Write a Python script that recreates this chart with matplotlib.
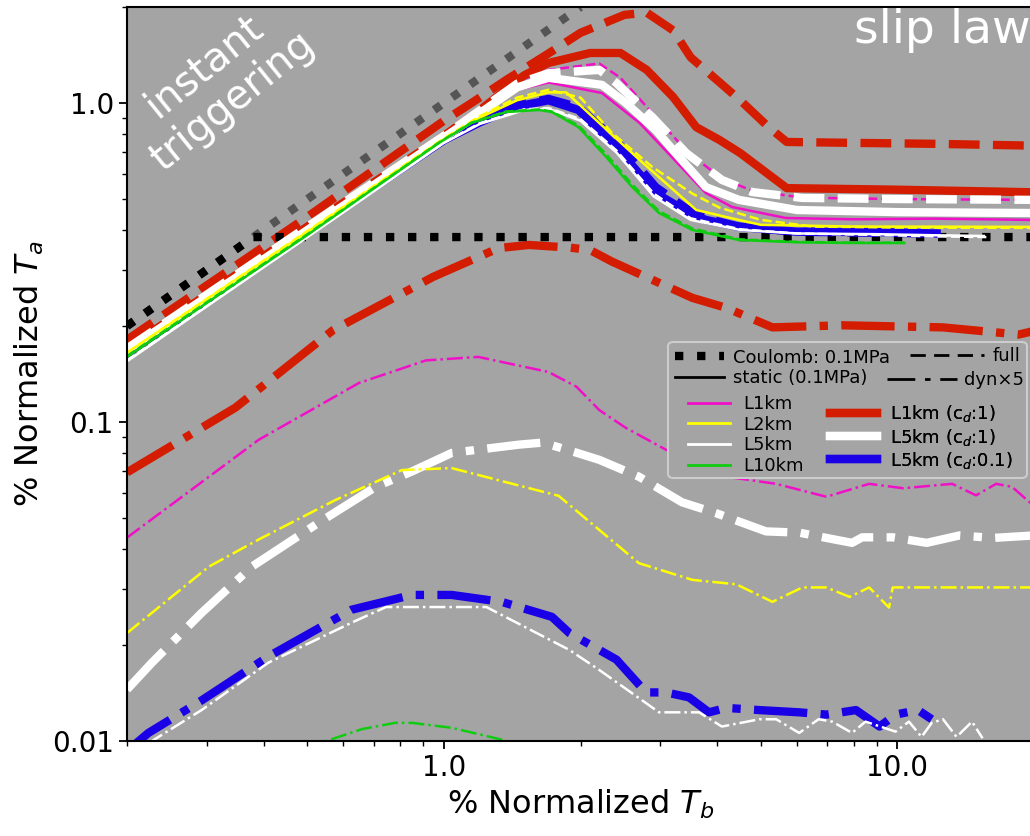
import matplotlib
matplotlib.use("Agg")
import matplotlib.pyplot as plt
from matplotlib.lines import Line2D
from matplotlib.patches import FancyBboxPatch
from matplotlib.ticker import NullFormatter

W, H = 1030, 836
BG = "#a4a4a4"
RED = "#d41c00"
BLUE = "#1a00e6"
MAG = "#f010c8"
YEL = "#ffff00"
GRN = "#10cc10"

# instant triggering line and Coulomb threshold
inst_x = [0.2, 2.0]
inst_y = [0.2, 2.0]
coul_x = [0.2, 0.38, 20.0]
coul_y = [0.2, 0.38, 0.38]

# L1km (c_d:1), thick red
red_full_x = [0.2, 0.5, 1.0, 1.15, 1.37, 1.7, 2.0, 2.5, 2.8, 3.2, 3.5, 4.0, 4.5, 5.2, 5.7, 8.0, 12.0, 20.0]
red_full_y = [0.181, 0.44, 0.88, 1.0, 1.18, 1.43, 1.66, 1.89, 1.92, 1.69, 1.39, 1.18, 1.02, 0.84, 0.755, 0.75, 0.745, 0.735]
red_stat_x = [0.2, 0.5, 1.0, 1.2, 1.5, 1.7, 2.1, 2.45, 2.8, 3.2, 3.6, 4.05, 4.5, 5.7, 10.0, 20.0]
red_stat_y = [0.17, 0.41, 0.79, 0.95, 1.22, 1.335, 1.435, 1.435, 1.27, 1.045, 0.84, 0.766, 0.697, 0.541, 0.535, 0.525]
red_dyn_x = [0.2, 0.347, 0.569, 0.946, 1.32, 1.54, 1.9, 2.1, 2.35, 3.53, 4.19, 5.3, 7.56, 12.6, 18.5, 20.0]
red_dyn_y = [0.0695, 0.111, 0.194, 0.285, 0.351, 0.359, 0.352, 0.346, 0.318, 0.245, 0.228, 0.198, 0.201, 0.198, 0.188, 0.193]

# L5km (c_d:1), thick white
wk_stat_x = [0.2, 0.5, 1.0, 1.2, 1.45, 1.7, 2.23, 2.52, 2.93, 3.3, 3.78, 4.47, 6.0, 10.0, 20.0]
wk_stat_y = [0.168, 0.40, 0.78, 0.93, 1.12, 1.2, 1.14, 1.0, 0.823, 0.677, 0.545, 0.497, 0.462, 0.455, 0.452]
wk_full_x = [0.2, 0.5, 1.0, 1.2, 1.45, 1.7, 2.2, 2.4, 2.88, 3.42, 4.1, 4.78, 6.17, 10.0, 20.0]
wk_full_y = [0.17, 0.41, 0.79, 0.95, 1.15, 1.24, 1.27, 1.155, 0.904, 0.697, 0.574, 0.526, 0.504, 0.50, 0.497]
wk_dyn_x = [0.2, 0.227, 0.292, 0.377, 0.53, 0.708, 0.85, 1.04, 1.46, 1.65, 1.86, 2.2, 2.69, 3.35, 3.98,
            5.13, 6.07, 7.94, 8.36, 9.76, 11.6, 13.7, 16.2, 20.0]
wk_dyn_y = [0.0145, 0.0176, 0.0252, 0.0352, 0.0484, 0.0627, 0.070, 0.080, 0.0849, 0.0862, 0.082, 0.0761, 0.0674,
            0.056, 0.0518, 0.0454, 0.045, 0.0418, 0.0435, 0.0435, 0.0418, 0.0441, 0.0433, 0.0441]

# L5km (c_d:0.1), thick blue
bl_stat_x = [0.2, 0.5, 1.0, 1.2, 1.45, 1.7, 1.98, 2.4, 2.93, 3.4, 3.78, 4.47, 6.0, 9.0, 12.2]
bl_stat_y = [0.164, 0.393, 0.765, 0.87, 0.975, 1.02, 0.951, 0.728, 0.522, 0.46, 0.43, 0.409, 0.395, 0.394, 0.39]
bl_full_x = [0.2, 0.5, 1.0, 1.2, 1.45, 1.7, 1.98, 2.4, 2.93, 3.4, 3.78, 4.47, 6.0, 9.0, 12.2]
bl_full_y = [0.165, 0.395, 0.768, 0.875, 0.985, 1.03, 0.97, 0.76, 0.545, 0.47, 0.435, 0.41, 0.395, 0.392, 0.39]
bl_dyn_x = [0.2, 0.223, 0.292, 0.41, 0.626, 0.85, 1.04, 1.34, 1.73, 1.89, 2.2, 2.4, 2.79, 3.09, 3.47, 3.84,
            4.19, 4.96, 6.07, 6.97, 8.1, 9.13, 9.9, 11.1, 11.9]
bl_dyn_y = [0.0093, 0.0106, 0.0134, 0.0184, 0.0258, 0.0287, 0.0287, 0.0273, 0.0245, 0.0218, 0.0193, 0.018,
            0.0142, 0.0142, 0.0137, 0.0123, 0.0127, 0.0125, 0.0123, 0.0121, 0.0125, 0.0111, 0.0121, 0.0125, 0.0117]

# L1km, thin magenta
mg_stat_x = [0.2, 0.5, 1.0, 1.2, 1.45, 1.7, 2.23, 2.7, 3.18, 3.78, 4.32, 5.68, 8.0, 12.0, 20.0]
mg_stat_y = [0.168, 0.40, 0.78, 0.93, 1.1, 1.16, 1.075, 0.866, 0.677, 0.522, 0.472, 0.436, 0.432, 0.434, 0.43]
mg_full_x = [0.2, 0.5, 1.0, 1.2, 1.45, 1.7, 2.2, 2.45, 2.9, 3.45, 4.1, 4.8, 6.2, 10.0, 20.0]
mg_full_y = [0.172, 0.415, 0.80, 0.96, 1.17, 1.27, 1.33, 1.2, 0.92, 0.70, 0.58, 0.53, 0.505, 0.50, 0.497]
mg_dyn_x = [0.2, 0.39, 0.649, 0.912, 1.19, 1.7, 1.96, 2.2, 2.52, 3.09, 4.19, 5.4, 6.97, 8.66, 10.3, 13.2,
            14.9, 16.5, 17.9, 20.0]
mg_dyn_y = [0.0434, 0.0879, 0.1325, 0.156, 0.16, 0.1435, 0.129, 0.109, 0.0958, 0.0818, 0.0674, 0.064, 0.0583,
            0.064, 0.062, 0.064, 0.0589, 0.064, 0.0626, 0.0545]

# L2km, thin yellow
yl_stat_x = [0.2, 0.5, 1.0, 1.2, 1.45, 1.7, 1.86, 2.2, 2.7, 3.6, 4.47, 5.0, 8.0, 20.0]
yl_stat_y = [0.165, 0.395, 0.77, 0.9, 1.02, 1.08, 1.08, 0.866, 0.663, 0.462, 0.43, 0.415, 0.41, 0.409]
yl_full_x = [0.2, 0.5, 1.0, 1.2, 1.45, 1.7, 2.0, 2.35, 2.88, 3.53, 4.05, 5.0, 6.5, 10.0, 20.0]
yl_full_y = [0.165, 0.397, 0.775, 0.91, 1.04, 1.1, 1.04, 0.805, 0.63, 0.52, 0.47, 0.43, 0.41, 0.407, 0.406]
yl_dyn_x = [0.2, 0.303, 0.39, 0.577, 0.808, 1.04, 1.79, 2.69, 3.53, 4.41, 5.3, 6.17, 6.97, 7.84, 8.66,
            9.58, 9.76, 20.0]
yl_dyn_y = [0.0218, 0.0352, 0.0428, 0.057, 0.0707, 0.0717, 0.0587, 0.0361, 0.032, 0.031, 0.0273, 0.0303,
            0.0303, 0.0283, 0.0303, 0.0262, 0.0303, 0.0303]

# L5km, thin white
wt_stat_x = [0.2, 0.5, 1.0, 1.2, 1.5, 1.7, 2.0, 2.4, 2.9, 3.5, 4.5, 6.0, 9.0, 12.0, 15.5]
wt_stat_y = [0.155, 0.38, 0.75, 0.86, 0.95, 0.96, 0.88, 0.70, 0.51, 0.43, 0.40, 0.39, 0.388, 0.385, 0.383]
wt_full_x = [0.2, 0.5, 1.0, 1.2, 1.5, 1.7, 2.0, 2.4, 2.9, 3.5, 4.5, 6.0, 9.0, 12.0, 15.7]
wt_full_y = [0.156, 0.382, 0.752, 0.865, 0.955, 0.965, 0.89, 0.71, 0.52, 0.435, 0.402, 0.39, 0.386, 0.382, 0.38]
wt_dyn_x = [0.2, 0.227, 0.292, 0.41, 0.626, 0.745, 1.24, 1.89, 2.2, 2.98, 3.65, 4.1, 4.96, 5.4, 6.07, 6.7,
            7.18, 7.94, 8.5, 9.9, 10.6, 11.3, 11.9, 12.6, 13.5, 14.6, 15.4]
wt_dyn_y = [0.0088, 0.01, 0.0125, 0.0176, 0.0235, 0.0263, 0.0263, 0.0193, 0.0167, 0.0123, 0.0123, 0.0111,
            0.0117, 0.0117, 0.0106, 0.0117, 0.0115, 0.0106, 0.0115, 0.0107, 0.0115, 0.0103, 0.0114, 0.0117,
            0.0103, 0.0115, 0.0102]

# L10km, thin green
gr_stat_x = [0.2, 0.5, 0.975, 1.15, 1.37, 1.62, 1.73, 1.98, 2.28, 2.6, 2.98, 3.53, 4.47, 6.0, 8.0, 10.35]
gr_stat_y = [0.16, 0.386, 0.75, 0.866, 0.937, 0.951, 0.937, 0.84, 0.677, 0.545, 0.452, 0.40, 0.372, 0.366, 0.364, 0.364]
gr_full_y = [0.161, 0.388, 0.752, 0.868, 0.94, 0.955, 0.94, 0.85, 0.69, 0.555, 0.458, 0.404, 0.374, 0.367, 0.365, 0.365]
gr_dyn_x = [0.5, 0.55, 0.66, 0.78, 0.85, 1.04, 1.34, 1.5]
gr_dyn_y = [0.0093, 0.01, 0.0109, 0.0114, 0.0114, 0.011, 0.0101, 0.0095]

THIN = 1.8
THICK = 6

fig = plt.figure(figsize=(W / 100, H / 100), dpi=100)
ax = fig.add_axes([127 / W, 1 - 741 / H, 907 / W, 734 / H])
ax.set_facecolor(BG)
ax.set_xscale("log")
ax.set_yscale("log")

ax.plot(inst_x, inst_y, ":", color="#555555", lw=6)

# draw order: thin L1km, thick red, Coulomb, thick blue, thick white, other thin ones
ax.plot(mg_stat_x, mg_stat_y, "-", color=MAG, lw=THIN)
ax.plot(mg_full_x, mg_full_y, "--", color=MAG, lw=THIN)
ax.plot(mg_dyn_x, mg_dyn_y, "-.", color=MAG, lw=THIN)

ax.plot(red_stat_x, red_stat_y, "-", color=RED, lw=THICK)
ax.plot(red_full_x, red_full_y, "--", color=RED, lw=THICK)
ax.plot(red_dyn_x, red_dyn_y, "-.", color=RED, lw=THICK)

ax.plot(coul_x, coul_y, ":", color="black", lw=6)

ax.plot(bl_stat_x, bl_stat_y, "-", color=BLUE, lw=THICK)
ax.plot(bl_full_x, bl_full_y, "--", color=BLUE, lw=THICK)
ax.plot(bl_dyn_x, bl_dyn_y, "-.", color=BLUE, lw=THICK)

ax.plot(wk_stat_x, wk_stat_y, "-", color="white", lw=THICK)
ax.plot(wk_full_x, wk_full_y, "--", color="white", lw=THICK)
ax.plot(wk_dyn_x, wk_dyn_y, "-.", color="white", lw=THICK)

ax.plot(yl_stat_x, yl_stat_y, "-", color=YEL, lw=THIN)
ax.plot(yl_full_x, yl_full_y, "--", color=YEL, lw=THIN)
ax.plot(yl_dyn_x, yl_dyn_y, "-.", color=YEL, lw=THIN)
ax.plot(wt_stat_x, wt_stat_y, "-", color="white", lw=THIN)
ax.plot(wt_full_x, wt_full_y, "--", color="white", lw=THIN)
ax.plot(wt_dyn_x, wt_dyn_y, "-.", color="white", lw=THIN)
ax.plot(gr_stat_x, gr_stat_y, "-", color=GRN, lw=THIN)
ax.plot(gr_stat_x, gr_full_y, "--", color=GRN, lw=THIN)
ax.plot(gr_dyn_x, gr_dyn_y, "-.", color=GRN, lw=THIN)

ax.set_xlim(0.2, 20)
ax.set_ylim(0.01, 2.0)
ax.set_xticks([1.0, 10.0], ["1.0", "10.0"])
ax.set_yticks([0.01, 0.1, 1.0], ["0.01", "0.1", "1.0"])
ax.xaxis.set_minor_formatter(NullFormatter())
ax.yaxis.set_minor_formatter(NullFormatter())
ax.tick_params(which="major", length=6, width=1.3, labelsize=20)
ax.tick_params(which="minor", length=3.5, width=1.0)
for s in ax.spines.values():
    s.set_linewidth(1.5)
ax.set_xlabel("% Normalized $T_b$", fontsize=23)
ax.set_ylabel("% Normalized $T_a$", fontsize=23)


def px2ax(px, py):
    return (px - 127) / 907, (741 - py) / 734


ax.text(*px2ax(204, 66), "instant", transform=ax.transAxes, rotation=39,
        ha="center", va="center", color="white", fontsize=29)
ax.text(*px2ax(233, 101), "triggering", transform=ax.transAxes, rotation=39,
        ha="center", va="center", color="white", fontsize=29)
ax.text(*px2ax(854, 43), "slip law", transform=ax.transAxes,
        ha="left", va="baseline", color="white", fontsize=34)

# legend frame
x0, y0 = px2ax(668, 478)
x1, y1 = px2ax(1027, 342)
ax.add_patch(FancyBboxPatch((x0, y0), x1 - x0, y1 - y0, boxstyle="round,pad=0,rounding_size=0.006",
                            transform=ax.transAxes, facecolor=BG, edgecolor="#cccccc", lw=1.5,
                            zorder=4.5, clip_on=False))


def add_leg(handles, labels, px, py, **kw):
    leg = ax.legend(handles, labels, loc="center left", bbox_to_anchor=px2ax(px, py),
                    bbox_transform=ax.transAxes, frameon=False, borderpad=0, borderaxespad=0,
                    fontsize=13, **kw)
    ax.add_artist(leg)
    return leg


add_leg([Line2D([], [], color="black", ls=":", lw=6), Line2D([], [], color="black", lw=2)],
        ["Coulomb: 0.1MPa", "static (0.1MPa)"], 675, 368,
        handlelength=2.7, handletextpad=0.5, labelspacing=0.15)
add_leg([Line2D([], [], color="black", ls=(0, (5.5, 3)), lw=2)], ["full"], 910, 356,
        handlelength=4.1, handletextpad=0.45)
add_leg([Line2D([], [], color="black", ls=(0, (10, 3.5, 2, 3.5)), lw=2)], ["dyn×5"], 887, 380,
        handlelength=3.9, handletextpad=0.35)
add_leg([Line2D([], [], color=c, lw=2) for c in [MAG, YEL, "white", GRN]],
        ["L1km", "L2km", "L5km", "L10km"], 688, 435,
        handlelength=2.33, handletextpad=0.72, labelspacing=0.15)
add_leg([Line2D([], [], color=c, lw=THICK) for c in [RED, "white", BLUE]],
        ["L1km (c$_d$:1)", "L5km (c$_d$:1)", "L5km (c$_d$:0.1)"], 830, 437,
        handlelength=2.6, handletextpad=0.72, labelspacing=0.12)

fig.savefig("out.png", dpi=100)
